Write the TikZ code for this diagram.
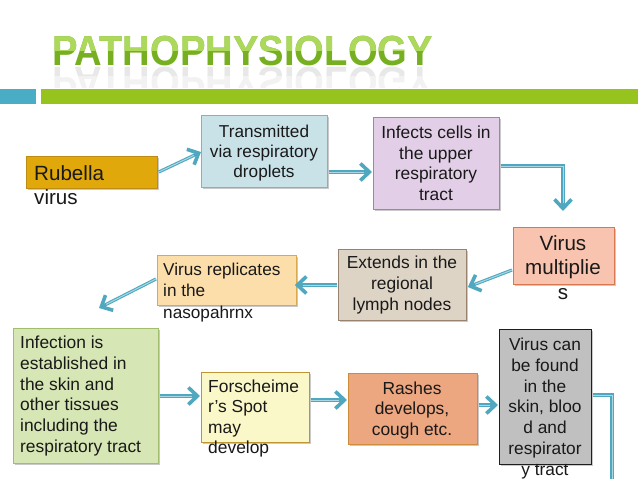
\documentclass[tikz,border=0pt]{standalone}
\usepackage{fontspec}
\setmainfont{Liberation Sans}
\usetikzlibrary{arrows.meta,shadows,calc}
\definecolor{arrowc}{RGB}{80,168,192}
\definecolor{arrowl}{RGB}{170,215,228}
\definecolor{tealbar}{RGB}{75,172,198}
\definecolor{greenbar}{RGB}{150,195,30}
\definecolor{titlelight}{RGB}{172,216,92}
\definecolor{titledark}{RGB}{118,176,32}
\definecolor{cRub}{RGB}{224,168,10}\definecolor{bRub}{RGB}{190,140,20}
\definecolor{cTra}{RGB}{200,226,232}\definecolor{bTra}{RGB}{140,175,185}
\definecolor{cInf}{RGB}{226,206,230}\definecolor{bInf}{RGB}{170,125,180}
\definecolor{cMul}{RGB}{248,196,176}\definecolor{bMul}{RGB}{215,120,80}
\definecolor{cExt}{RGB}{222,212,198}\definecolor{bExt}{RGB}{150,130,110}
\definecolor{cRep}{RGB}{252,222,170}\definecolor{bRep}{RGB}{215,170,80}
\definecolor{cEst}{RGB}{214,230,180}\definecolor{bEst}{RGB}{160,190,110}
\definecolor{cFor}{RGB}{250,248,200}\definecolor{bFor}{RGB}{190,150,50}
\definecolor{cRas}{RGB}{236,166,128}\definecolor{bRas}{RGB}{205,140,60}
\definecolor{cVir}{RGB}{192,192,192}\definecolor{bVir}{RGB}{30,30,30}
\tikzset{
  box/.style={draw, line width=0.8pt, inner sep=0pt, anchor=north west,
    drop shadow={shadow xshift=1.5pt, shadow yshift=-1.5pt, opacity=0.35, fill=black!60}},
  txt/.style={inner sep=0pt, text=black!90},
  arr/.style={draw=arrowc, line width=3.2pt,
    -{Straight Barb[length=9pt,width=17pt,line width=3.6pt]},
    postaction={draw=arrowl, line width=1pt, arrows=-, shorten >=8pt}},
  lin/.style={draw=arrowc, line width=3.2pt,
    postaction={draw=arrowl, line width=1pt}},
  fs/.style={font=\fontsize{17.4}{20.7}\selectfont},
  ttl/.style={inner sep=0pt, anchor=base west, xscale=0.91, transform shape,
    font=\fontsize{42}{42}\bfseries\selectfont},
}
\begin{document}
\begin{tikzpicture}[x=1pt,y=-1pt]
\useasboundingbox (0,0) rectangle (638,479);
\fill[white] (0,0) rectangle (638,479);
% title
\node[ttl, text=titledark] (title) at (52,65) {PATHOPHYSIOLOGY};
\begin{scope}
\clip (0,0) rectangle (638,50);
\node[ttl, text=titlelight] (titlehi) at (52,65) {PATHOPHYSIOLOGY};
\end{scope}
\begin{scope}
\clip (0,66) rectangle (638,76);
\node[ttl, text=black!9, yscale=-1] (titlere) at (52,67) {PATHOPHYSIOLOGY};
\end{scope}
\begin{scope}
\clip (0,76) rectangle (638,87);
\node[ttl, text=black!5, yscale=-1] (titlere2) at (52,67) {PATHOPHYSIOLOGY};
\end{scope}
% bars
\fill[tealbar] (0,89) rectangle (36,104);
\fill[greenbar] (41,89) rectangle (638,104);
% boxes
\node[box, fill=cRub, draw=bRub, minimum width=131pt, minimum height=32pt] (rub) at (26,156) {};
\node[box, fill=cTra, draw=bTra, minimum width=126pt, minimum height=72pt] (tra) at (201,115) {};
\node[box, fill=cInf, draw=bInf, minimum width=126pt, minimum height=92pt] (inf) at (373,117) {};
\node[box, fill=cMul, draw=bMul, minimum width=101pt, minimum height=57pt] (mul) at (513,227) {};
\node[box, fill=cExt, draw=bExt, minimum width=128pt, minimum height=71pt] (ext) at (338,249) {};
\node[box, fill=cRep, draw=bRep, minimum width=139pt, minimum height=50pt] (rep) at (157,255) {};
\node[box, fill=cEst, draw=bEst, minimum width=145pt, minimum height=135pt] (est) at (13,328) {};
\node[box, fill=cFor, draw=bFor, minimum width=108pt, minimum height=70pt] (for) at (201,372) {};
\node[box, fill=cRas, draw=bRas, minimum width=129pt, minimum height=71pt] (ras) at (348,373) {};
\node[box, fill=cVir, draw=bVir, minimum width=92pt, minimum height=135pt] (vir) at (499,329) {};
% texts
\node[txt, anchor=north west, align=left, font=\fontsize{20.6}{24.7}\selectfont] (rubt) at (34,165) {Rubella\\virus};
\node[txt, anchor=north, align=center, font=\fontsize{17.2}{20.3}\selectfont] (trat) at (264,124.5) {Transmitted\\via respiratory\\droplets};
\node[txt, anchor=north, align=center, fs] (inft) at (436,125.5) {Infects cells in\\the upper\\respiratory\\tract};
\node[txt, anchor=north, align=center, font=\fontsize{20.6}{24.5}\selectfont] (mult) at (563,235) {Virus\\multiplie\\s};
\node[txt, anchor=north, align=center, fs] (extt) at (402,256) {Extends in the\\regional\\lymph nodes};
\node[txt, anchor=north west, align=left, font=\fontsize{17.2}{21.5}\selectfont] (rept) at (163,262.5) {Virus replicates\\in the\\nasopahrnx};
\node[txt, anchor=north west, align=left, fs] (estt) at (20,336) {Infection is\\established in\\the skin and\\other tissues\\including the\\respiratory tract};
\node[txt, anchor=north west, align=left, font=\fontsize{17.4}{20.4}\selectfont] (fort) at (208,379.5) {Forscheime\\r’s Spot\\may\\develop};
\node[txt, anchor=north, align=center, font=\fontsize{17.4}{20.5}\selectfont] (rast) at (412,381.5) {Rashes\\develops,\\cough etc.};
\node[txt, anchor=north, align=center, font=\fontsize{17.3}{20.9}\selectfont] (virt) at (545,337.5) {Virus can\\be found\\in the\\skin, bloo\\d and\\respirator\\y tract};
% connectors
\coordinate (a1) at ($(tra.north west)+(0,37)$);
\draw[arr] ($(rub.north east)+(1,16)$) -- (a1);
\draw[arr] ($(tra.north east)+(1,57)$) -- ($(inf.north west)+(-1,55)$);
\coordinate (c1) at (563,166);
\coordinate (c2) at (563,211);
\draw[arr] ($(inf.north east)+(1,49)$) -- (c1) -- (c2);
\draw[arr] ($(mul.north west)+(-1,43)$) -- ($(ext.north east)+(1,38)$);
\draw[arr] ($(ext.north west)+(-1,36)$) -- ($(rep.north east)+(-2,30)$);
\coordinate (c3) at (99,308);
\draw[arr] ($(rep.north west)+(-1,24)$) -- (c3);
\draw[arr] ($(est.north east)+(1,68)$) -- ($(for.north west)+(-1,24)$);
\draw[arr] ($(for.north east)+(1,28)$) -- ($(ras.north west)+(-1,27)$);
\draw[arr] ($(ras.north east)+(1,32)$) -- ($(vir.north west)+(-1,76)$);
\coordinate (c4) at (612,395);
\coordinate (c5) at (612,481);
\draw[lin] ($(vir.north east)+(1,66)$) -- (c4) -- (c5);
\end{tikzpicture}
\end{document}
